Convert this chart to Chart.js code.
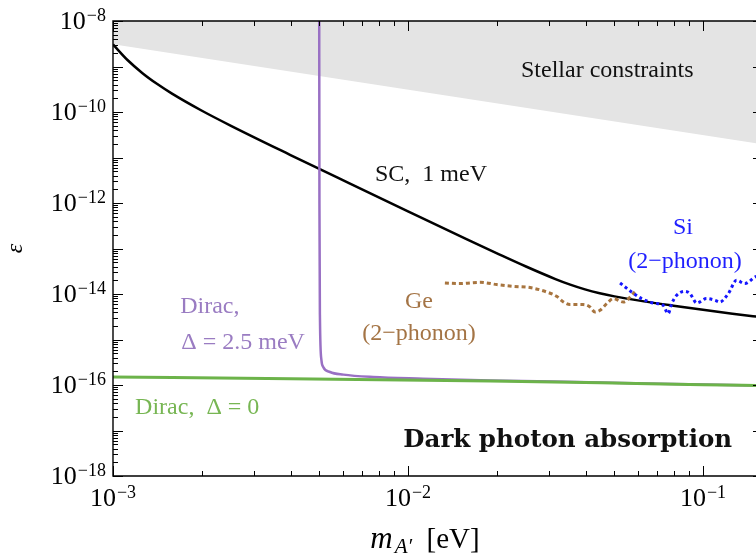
<!DOCTYPE html>
<html>
<head>
<meta charset="utf-8">
<script src="https://cdn.jsdelivr.net/npm/chart.js@4.4.1/dist/chart.umd.min.js"></script>
<style>
  html, body { margin: 0; padding: 0; background: #fff; }
</style>
</head>
<body>
<canvas id="chart" width="756" height="558"></canvas>
<script>
// ---- data (mass in eV, kinetic mixing epsilon) ----

// stellar constraints: lower edge of the grey band
const stellarMass = [1.0e-3, 0.16];
const stellarEps = [3.09e-9, 1.95e-11];

// superconductor, 1 meV gap
const scMass = [1.000e-3, 1.122e-3, 1.259e-3, 1.413e-3, 1.585e-3, 1.995e-3, 2.512e-3, 3.981e-3, 6.310e-3,
  1.000e-2, 1.585e-2, 1.995e-2, 2.512e-2, 3.162e-2, 3.548e-2, 3.981e-2, 4.467e-2, 5.012e-2, 6.310e-2,
  7.943e-2, 0.1000, 0.1259, 0.1600];
const scEps = [3.06e-9, 1.371e-9, 7.14e-10, 4.11e-10, 2.535e-10, 1.079e-10, 4.97e-11, 1.148e-11, 2.73e-12,
  6.55e-13, 1.585e-13, 7.93e-14, 4.02e-14, 2.13e-14, 1.607e-14, 1.262e-14, 1.038e-14, 8.87e-15, 6.89e-15,
  5.53e-15, 4.50e-15, 3.70e-15, 3.05e-15];

// Dirac material, gap 2.5 meV
const dirac25Mass = [5.00e-3, 5.01e-3, 5.03e-3, 5.09e-3, 5.16e-3, 5.44e-3, 6.04e-3, 7.62e-3, 1.125e-2,
  1.90e-2, 4.50e-2, 0.100, 0.160];
const dirac25Eps = [1e-7, 1e-12, 3e-15, 3.49e-16, 2.49e-16, 1.93e-16, 1.69e-16, 1.50e-16, 1.38e-16,
  1.26e-16, 1.14e-16, 1.02e-16, 0.98e-16];

// Dirac material, no gap
const dirac0Mass = [1.0e-3, 4.0e-3, 1.9e-2, 4.5e-2, 0.100, 0.160];
const dirac0Eps = [1.50e-16, 1.38e-16, 1.22e-16, 1.12e-16, 1.01e-16, 0.97e-16];

// Ge, 2-phonon
const geMass = [1.334e-2, 1.500e-2, 1.754e-2, 2.000e-2, 2.275e-2, 2.594e-2, 2.951e-2, 3.192e-2, 3.365e-2,
  3.540e-2, 3.926e-2, 4.140e-2, 4.305e-2, 4.477e-2, 4.721e-2, 4.966e-2, 5.370e-2, 5.875e-2];
const geEps = [1.746e-14, 1.694e-14, 1.807e-14, 1.611e-14, 1.476e-14, 1.384e-14, 1.107e-14, 8.89e-15, 6.67e-15,
  5.85e-15, 5.85e-15, 5.18e-15, 4.02e-15, 4.39e-15, 6.15e-15, 7.93e-15, 6.67e-15, 1.107e-14];

// Si, 2-phonon
const siMass = [5.236e-2, 5.728e-2, 6.194e-2, 6.792e-2, 7.328e-2, 7.621e-2, 7.834e-2, 8.147e-2, 8.690e-2,
  9.036e-2, 9.528e-2, 0.1028, 0.1099, 0.1140, 0.1219, 0.1300, 0.1387, 0.1503, 0.158];
const siEps = [1.746e-14, 1.107e-14, 7.93e-15, 6.34e-15, 5.65e-15, 3.71e-15, 6.15e-15, 9.35e-15, 1.146e-14,
  1.021e-14, 6.34e-15, 7.93e-15, 7.28e-15, 6.67e-15, 1.021e-14, 2.00e-14, 1.694e-14, 2.37e-14, 2.6e-14];

// labelled decades
const xTickExps = [-3, -2, -1];
const yTickExps = [-8, -10, -12, -14, -16, -18];

const SERIF = '"Liberation Serif", "DejaVu Serif", serif';

const pts = (xs, ys) => xs.map((x, i) => ({ x: x, y: ys[i] }));

// all 1..9 x 10^n ticks between lo and hi
function logTicks(lo, hi) {
  const out = [];
  for (let e = Math.floor(Math.log10(lo)); e <= Math.ceil(Math.log10(hi)); e++) {
    for (let k = 1; k <= 9; k++) {
      const v = k * Math.pow(10, e);
      if (v >= lo * 0.999 && v <= hi * 1.001) out.push({ value: v, major: k === 1 });
    }
  }
  return out;
}

// text annotations, placed in data coordinates
const notes = [
  { text: 'Stellar constraints', x: 0.0474, y: 8.26e-10, color: '#111' },
  { text: 'SC,  1 meV', x: 0.01197, y: 4.28e-12, color: '#111' },
  { text: 'Si', x: 0.0855, y: 2.92e-13, color: '#1f1fff' },
  { text: '(2\u2212phonon)', x: 0.0869, y: 5.25e-14, color: '#1f1fff' },
  { text: 'Ge', x: 0.01089, y: 6.92e-15, color: '#a47445' },
  { text: '(2\u2212phonon)', x: 0.01089, y: 1.37e-15, color: '#a47445' },
  { text: 'Dirac,', x: 2.13e-3, y: 5.37e-15, color: '#9a7cc2' },
  { text: '\u0394 = 2.5 meV', x: 2.76e-3, y: 8.71e-16, color: '#9a7cc2' },
  { text: 'Dirac,  \u0394 = 0', x: 1.93e-3, y: 3.24e-17, color: '#77b653' },
  { text: 'Dark photon absorption', x: 3.48e-2, y: 6.1e-18, color: '#111', bold: true }
];

function drawPow(ctx, exp, x, y, align) {
  const base = '10', sup = '\u2212' + Math.abs(exp);
  ctx.font = '26px ' + SERIF;
  const wb = ctx.measureText(base).width;
  ctx.font = '18px ' + SERIF;
  const ws = ctx.measureText(sup).width;
  const total = wb + 1 + ws;
  const left = align === 'right' ? x - total : x - total / 2;
  ctx.textAlign = 'left';
  ctx.textBaseline = 'alphabetic';
  ctx.font = '26px ' + SERIF;
  ctx.fillText(base, left, y);
  ctx.font = '18px ' + SERIF;
  ctx.fillText(sup, left + wb + 1, y - 8);
}

const decorations = {
  id: 'decorations',
  afterDatasetsDraw(chart) {
    const { ctx, chartArea: a, scales: { x, y } } = chart;
    ctx.save();

    // annotations
    ctx.textAlign = 'center';
    ctx.textBaseline = 'middle';
    notes.forEach(n => {
      ctx.font = n.bold ? 'bold 24.5px "DejaVu Serif", serif' : '24px ' + SERIF;
      ctx.fillStyle = n.color;
      ctx.fillText(n.text, x.getPixelForValue(n.x), y.getPixelForValue(n.y));
    });

    // frame (right spine sits just outside the picture) and inward ticks
    ctx.strokeStyle = '#000';
    ctx.lineWidth = 1.4;
    ctx.beginPath();
    ctx.moveTo(a.right + 8, a.top); ctx.lineTo(a.left, a.top);
    ctx.lineTo(a.left, a.bottom); ctx.lineTo(a.right + 8, a.bottom);
    ctx.stroke();
    const rightSpine = a.right + 7;
    ctx.lineWidth = 1;
    ctx.beginPath();
    x.ticks.forEach(t => {
      const px = Math.round(x.getPixelForValue(t.value)) + 0.5;
      const len = t.major ? 10 : 5;
      ctx.moveTo(px, a.bottom); ctx.lineTo(px, a.bottom - len);
      ctx.moveTo(px, a.top); ctx.lineTo(px, a.top + len);
    });
    y.ticks.forEach(t => {
      const py = Math.round(y.getPixelForValue(t.value)) + 0.5;
      const len = t.major ? 10 : 5;
      ctx.moveTo(a.left, py); ctx.lineTo(a.left + len, py);
      ctx.moveTo(rightSpine, py); ctx.lineTo(rightSpine - len, py);
    });
    ctx.stroke();

    // tick labels 10^n
    ctx.fillStyle = '#000';
    xTickExps.forEach(e => drawPow(ctx, e, x.getPixelForValue(Math.pow(10, e)), a.bottom + 30, 'center'));
    yTickExps.forEach(e => drawPow(ctx, e, a.left - 7, y.getPixelForValue(Math.pow(10, e)) + 7.5, 'right'));

    // x axis title  m_A' [eV]
    const cx = 425, by = 548;
    ctx.font = 'italic 31px ' + SERIF;
    const wm = ctx.measureText('m').width;
    ctx.font = 'italic 21px ' + SERIF;
    const ws = ctx.measureText('A\u2032').width;
    ctx.font = '29px ' + SERIF;
    const wu = ctx.measureText('  [eV]').width;
    let left = cx - (wm + ws + wu + 2) / 2;
    ctx.textAlign = 'left';
    ctx.textBaseline = 'alphabetic';
    ctx.font = 'italic 31px ' + SERIF;
    ctx.fillText('m', left, by);
    ctx.font = 'italic 21px ' + SERIF;
    ctx.fillText('A\u2032', left + wm + 2, by + 5);
    ctx.font = '29px ' + SERIF;
    ctx.fillText('  [eV]', left + wm + ws + 2, by);
    ctx.restore();
  }
};

const line = (label, xs, ys, color, width, dash) => ({
  label: label,
  data: pts(xs, ys),
  borderColor: color,
  borderWidth: width,
  borderDash: dash || [],
  borderCapStyle: 'butt',
  pointRadius: 0,
  fill: false,
  cubicInterpolationMode: 'monotone'
});

new Chart(document.getElementById('chart'), {
  type: 'line',
  data: {
    datasets: [
      line('Dirac, \u0394 = 0', dirac0Mass, dirac0Eps, '#6cb34a', 3),
      line('Dirac, \u0394 = 2.5 meV', dirac25Mass, dirac25Eps, '#9970c4', 2.5),
      line('Si (2-phonon)', siMass, siEps, '#1515ff', 3, [3, 3]),
      line('Ge (2-phonon)', geMass, geEps, '#a8753f', 3, [4, 3]),
      line('SC, 1 meV', scMass, scEps, '#000', 2.5),
      {
        label: 'Stellar constraints',
        data: pts(stellarMass, stellarEps),
        borderWidth: 0,
        pointRadius: 0,
        backgroundColor: '#e4e4e4',
        fill: 'end'
      }
    ]
  },
  options: {
    responsive: false,
    animation: false,
    layout: { padding: { top: 21, right: 0, bottom: 0, left: 0 } },
    plugins: {
      legend: { display: false },
      tooltip: { enabled: false }
    },
    scales: {
      x: {
        type: 'logarithmic',
        min: 1e-3,
        max: 0.1513,
        grid: { display: false },
        border: { display: false },
        ticks: { display: false },
        afterBuildTicks: s => { s.ticks = logTicks(1e-3, 0.1513); },
        afterFit: s => { s.height = 82; }
      },
      y: {
        type: 'logarithmic',
        min: 1e-18,
        max: 1e-8,
        grid: { display: false },
        border: { display: false },
        ticks: { display: false },
        title: {
          display: true,
          text: '\u03b5',
          color: '#000',
          font: { family: SERIF, size: 24, style: 'italic' },
          padding: { top: 1, bottom: 0 }
        },
        afterBuildTicks: s => { s.ticks = logTicks(1e-18, 1e-8); },
        afterFit: s => { s.width = 113; }
      }
    }
  },
  plugins: [decorations]
});
</script>
</body>
</html>
